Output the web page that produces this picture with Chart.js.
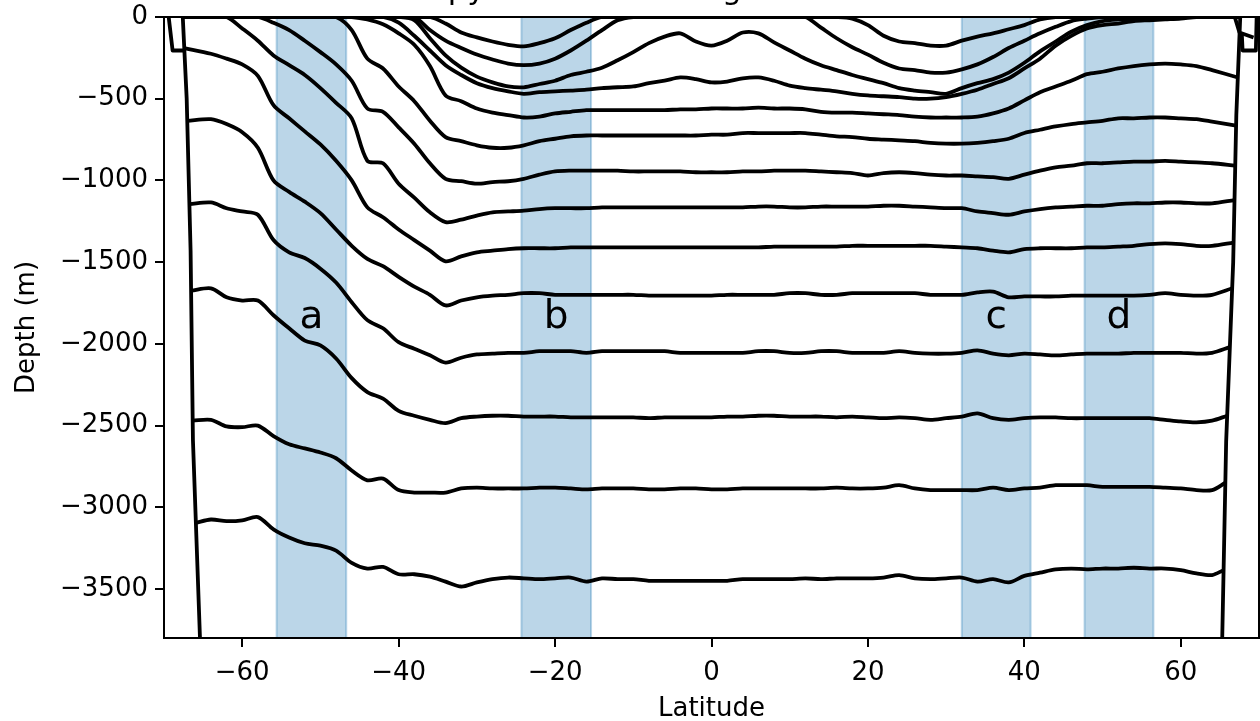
<!DOCTYPE html>
<html>
<head>
<meta charset="utf-8">
<script src="https://cdn.jsdelivr.net/npm/chart.js@4.4.1/dist/chart.umd.min.js"></script>
<style>
  html, body { margin: 0; padding: 0; background: #fff; overflow: hidden; }
</style>
</head>
<body>
<canvas id="chart" width="1260" height="721"></canvas>
<script>
// latitude grid shared by every isopycnal
const lats = [
  -66, -64, -62, -60, -58, -56, -54, -52, -50, -48,
  -46, -44, -42, -40, -38, -36, -34, -32, -30, -28,
  -26, -24, -22, -20, -18, -16, -14, -12, -10, -8,
  -6, -4, -2, 0, 2, 4, 6, 8, 10, 12,
  14, 16, 18, 20, 22, 24, 26, 28, 30, 32,
  34, 36, 38, 40, 42, 44, 46, 48, 50, 52,
  54, 56, 58, 60, 62, 64, 66
];

// isopycnal depths (m), shallow to deep
const surface1 = [
  0, 0, 0, 0, 0, 0, 0, 0, 0, 0,
  0, 0, 0, 0, 0, 0, -40, -95, -125, -150,
  -170, -180, -160, -130, -80, -35, 0, 0, 0, 0,
  0, 0, 0, 0, 0, 0, 0, 0, 0, 0,
  0, 0, -10, -50, -115, -150, -160, -175, -175, -145,
  -120, -100, -75, -50, -15, 0, 0, 0, 0, 0,
  0, 0, 0, 0, 0, 0, 0
];
const surface2 = [
  0, 0, 0, 0, 0, 0, 0, 0, 0, 0,
  0, 0, 0, 0, 0, -80, -145, -190, -230, -260,
  -285, -295, -285, -255, -205, -145, -80, -20, 0, 0,
  0, 0, 0, 0, 0, 0, 0, 0, 0, 0,
  -65, -130, -185, -230, -280, -315, -325, -340, -340, -320,
  -290, -245, -190, -145, -100, -60, -25, -10, 0, 0,
  0, 0, 0, 0, 0, 0, 0
];
const twinPeak = [
  0, 0, 0, 0, 0, 0, 0, 0, 0, 0,
  0, 0, 0, 0, -20, -130, -235, -310, -365, -400,
  -425, -430, -410, -390, -355, -335, -310, -265, -215, -160,
  -120, -100, -150, -175, -145, -95, -100, -155, -205, -255,
  -295, -325, -355, -380, -405, -435, -450, -460, -470, -435,
  -405, -380, -340, -280, -210, -150, -90, -50, -25, -15,
  -10, 0, 0, 0, 0, 0, 0
];
const iso450 = [
  0, 0, 0, 0, 0, 0, 0, 0, 0, 0,
  0, 0, 0, -35, -115, -205, -295, -355, -405, -435,
  -455, -470, -460, -455, -450, -445, -435, -430, -425, -405,
  -390, -370, -380, -400, -395, -375, -370, -390, -420, -435,
  -445, -455, -470, -480, -485, -490, -500, -500, -490, -470,
  -445, -410, -375, -315, -255, -175, -115, -70, -50, -40,
  -25, -20, -15, -10, 0, 0, 0
];
const iso570 = [
  0, 0, 0, 0, 0, 0, 0, 0, 0, 0,
  0, -15, -45, -100, -170, -300, -480, -515, -560, -585,
  -600, -615, -610, -590, -580, -570, -570, -570, -570, -570,
  -570, -565, -565, -560, -560, -560, -555, -560, -560, -565,
  -580, -585, -585, -590, -595, -600, -610, -615, -615, -615,
  -610, -590, -560, -510, -460, -425, -390, -350, -335, -315,
  -300, -290, -285, -290, -300, -325, -370
];
const iso725 = [
  0, 0, 0, 0, 0, 0, 0, 0, 0, 0,
  -80, -255, -315, -425, -515, -635, -735, -760, -785, -800,
  -800, -785, -760, -745, -730, -725, -725, -725, -725, -725,
  -725, -725, -725, -720, -720, -710, -710, -710, -710, -710,
  -720, -730, -735, -745, -750, -755, -760, -770, -775, -775,
  -770, -760, -745, -710, -690, -670, -655, -645, -635, -620,
  -620, -615, -615, -620, -625, -640, -665
];
const iso945 = [
  0, 0, 0, 0, 0, -35, -80, -145, -215, -290,
  -390, -560, -580, -675, -775, -895, -990, -1005, -1020, -1010,
  -1005, -990, -965, -945, -940, -940, -940, -940, -945, -945,
  -945, -945, -950, -950, -950, -945, -945, -940, -940, -940,
  -945, -950, -955, -970, -955, -950, -955, -965, -970, -970,
  -975, -980, -990, -965, -940, -920, -910, -895, -895, -890,
  -885, -885, -880, -885, -890, -895, -910
];
const iso1165 = [
  0, 0, 0, -70, -145, -235, -295, -355, -435, -525,
  -620, -880, -895, -1020, -1105, -1195, -1255, -1240, -1215, -1195,
  -1190, -1185, -1175, -1170, -1170, -1170, -1165, -1165, -1165, -1165,
  -1165, -1165, -1165, -1165, -1165, -1165, -1160, -1160, -1165, -1165,
  -1160, -1160, -1160, -1160, -1155, -1155, -1160, -1165, -1170, -1170,
  -1190, -1200, -1210, -1190, -1175, -1165, -1160, -1155, -1155, -1145,
  -1140, -1140, -1135, -1135, -1140, -1140, -1120
];
const iso1410 = [
  -190, -225, -255, -290, -360, -540, -620, -700, -780, -880,
  -1000, -1165, -1225, -1300, -1365, -1430, -1495, -1465, -1440, -1430,
  -1420, -1415, -1415, -1415, -1410, -1410, -1410, -1410, -1410, -1410,
  -1410, -1410, -1410, -1410, -1410, -1410, -1410, -1405, -1405, -1405,
  -1405, -1405, -1400, -1400, -1400, -1400, -1400, -1400, -1405, -1410,
  -1415, -1430, -1440, -1420, -1415, -1415, -1415, -1410, -1410, -1405,
  -1400, -1390, -1385, -1390, -1400, -1400, -1380
];
const iso1700 = [
  -635, -625, -655, -705, -800, -1000, -1070, -1130, -1200, -1300,
  -1400, -1480, -1525, -1590, -1650, -1700, -1765, -1735, -1715, -1705,
  -1700, -1690, -1690, -1700, -1700, -1700, -1700, -1700, -1700, -1705,
  -1705, -1705, -1705, -1705, -1700, -1700, -1700, -1700, -1690, -1690,
  -1700, -1700, -1690, -1690, -1690, -1690, -1690, -1700, -1700, -1700,
  -1685, -1680, -1715, -1710, -1710, -1710, -1705, -1705, -1705, -1705,
  -1705, -1700, -1690, -1700, -1705, -1700, -1660
];
const iso2050 = [
  -1145, -1135, -1170, -1190, -1210, -1365, -1440, -1475, -1540, -1625,
  -1745, -1855, -1905, -1990, -2030, -2070, -2115, -2085, -2065, -2060,
  -2055, -2055, -2045, -2045, -2045, -2055, -2045, -2045, -2045, -2045,
  -2045, -2055, -2055, -2055, -2055, -2055, -2045, -2045, -2055, -2055,
  -2045, -2045, -2055, -2055, -2055, -2045, -2055, -2060, -2060, -2055,
  -2040, -2060, -2070, -2060, -2065, -2070, -2065, -2060, -2060, -2060,
  -2055, -2055, -2055, -2055, -2060, -2055, -2020
];
const iso2450 = [
  -1675, -1660, -1715, -1735, -1735, -1825, -1905, -1980, -2010, -2090,
  -2210, -2295, -2335, -2410, -2440, -2465, -2485, -2455, -2445, -2440,
  -2440, -2445, -2445, -2445, -2450, -2450, -2450, -2450, -2450, -2455,
  -2450, -2450, -2450, -2450, -2445, -2445, -2440, -2440, -2445, -2445,
  -2445, -2450, -2445, -2450, -2455, -2450, -2455, -2465, -2455, -2445,
  -2425, -2455, -2465, -2455, -2450, -2450, -2455, -2455, -2455, -2455,
  -2455, -2455, -2465, -2475, -2480, -2470, -2440
];
const iso2885 = [
  -2470, -2465, -2505, -2510, -2500, -2565, -2615, -2640, -2665, -2700,
  -2775, -2835, -2825, -2895, -2910, -2910, -2910, -2885, -2880, -2885,
  -2885, -2885, -2880, -2880, -2885, -2890, -2885, -2885, -2885, -2890,
  -2890, -2885, -2885, -2890, -2890, -2885, -2885, -2885, -2885, -2885,
  -2885, -2880, -2885, -2885, -2880, -2865, -2885, -2895, -2895, -2895,
  -2895, -2880, -2895, -2885, -2880, -2865, -2865, -2865, -2875, -2875,
  -2875, -2875, -2880, -2885, -2895, -2895, -2850
];
const iso3440 = [
  -3095, -3075, -3085, -3080, -3060, -3135, -3185, -3220, -3235, -3265,
  -3340, -3375, -3365, -3410, -3410, -3425, -3455, -3485, -3460, -3440,
  -3430, -3435, -3440, -3435, -3430, -3455, -3435, -3440, -3440, -3450,
  -3450, -3450, -3450, -3450, -3450, -3440, -3440, -3440, -3440, -3435,
  -3440, -3435, -3435, -3435, -3430, -3415, -3435, -3440, -3435, -3430,
  -3455, -3440, -3460, -3420, -3400, -3380, -3375, -3380, -3375, -3375,
  -3370, -3375, -3375, -3385, -3405, -3415, -3385
];

// side walls and the little corner pieces near the surface
const leftWallLat = [-67.6, -67.1, -66.6, -66.3, -65.4];
const leftWallDepth = [0, -500, -1430, -2590, -3800];
const rightWallLat = [67.6, 67.1, 66.7, 65.8, 65.3];
const rightWallDepth = [0, -600, -1500, -2600, -3800];
const leftCornerLat = [-69.4, -68.9, -67.4];
const leftCornerDepth = [0, -205, -205];
const rightCornerLat = [66.9, 67.5, 69.3];
const rightCornerDepth = [0, -95, -125];
const rightBoxLat = [67.8, 67.9, 69.6, 69.7];
const rightBoxDepth = [-100, -205, -205, 0];

// shaded latitude bands
const bandNames = ['a', 'b', 'c', 'd'];
const bandStart = [-55.6, -24.3, 32.0, 47.7];
const bandEnd = [-46.7, -15.4, 40.8, 56.5];
const bandLabelDepth = -1905;

const latTicks = [-60, -40, -20, 0, 20, 40, 60];
const depthTicks = [0, -500, -1000, -1500, -2000, -2500, -3000, -3500];

const chartTitle = 'Isopycnals in the long model simulation';

const isopycnals = [surface1, surface2, twinPeak, iso450, iso570, iso725, iso945,
  iso1165, iso1410, iso1700, iso2050, iso2450, iso2885, iso3440];

function wallLatAt(wLat, wDepth, d) {
  for (let i = 0; i < wDepth.length - 1; i++) {
    if (d <= wDepth[i] && d >= wDepth[i + 1]) {
      const t = (d - wDepth[i]) / (wDepth[i + 1] - wDepth[i]);
      return wLat[i] + t * (wLat[i + 1] - wLat[i]);
    }
  }
  return wLat[wLat.length - 1];
}

function toPoints(xs, ys) {
  return xs.map((x, i) => ({ x: x, y: ys[i] }));
}

// each isopycnal ends on the side walls
function isoPoints(depths) {
  const pts = toPoints(lats, depths);
  pts[0].x = wallLatAt(leftWallLat, leftWallDepth, depths[0]);
  const last = depths.length - 1;
  pts[last].x = wallLatAt(rightWallLat, rightWallDepth, depths[last]);
  return pts;
}

const lineStyle = {
  borderColor: '#000',
  borderWidth: 3.8,
  pointRadius: 0,
  fill: false,
  tension: 0,
  borderJoinStyle: 'round'
};

const datasets = isopycnals.map((d) => Object.assign({}, lineStyle, { data: isoPoints(d), tension: 0.3 }));
datasets.push(Object.assign({ data: toPoints(leftWallLat, leftWallDepth) }, lineStyle));
datasets.push(Object.assign({ data: toPoints(rightWallLat, rightWallDepth) }, lineStyle));
datasets.push(Object.assign({ data: toPoints(leftCornerLat, leftCornerDepth) }, lineStyle));
datasets.push(Object.assign({ data: toPoints(rightCornerLat, rightCornerDepth) }, lineStyle));
datasets.push(Object.assign({ data: toPoints(rightBoxLat, rightBoxDepth) }, lineStyle));

function fmt(v) {
  return String(v).replace('-', '\u2212');
}

const decorPlugin = {
  id: 'decor',
  beforeDatasetsDraw(chart) {
    const { ctx, chartArea } = chart;
    const x = chart.scales.x;
    ctx.save();
    bandStart.forEach((b0, i) => {
      const x0 = x.getPixelForValue(b0);
      const x1 = x.getPixelForValue(bandEnd[i]);
      const h = chartArea.bottom - chartArea.top;
      ctx.fillStyle = 'rgba(31,119,180,0.3)';
      ctx.fillRect(x0, chartArea.top, x1 - x0, h);
      ctx.strokeStyle = 'rgba(31,119,180,0.3)';
      ctx.lineWidth = 2;
      ctx.strokeRect(x0, chartArea.top, x1 - x0, h);
    });
    ctx.restore();
  },
  afterDatasetsDraw(chart) {
    const { ctx, chartArea } = chart;
    const x = chart.scales.x;
    const y = chart.scales.y;
    ctx.save();
    ctx.fillStyle = '#000';
    ctx.font = '39px "DejaVu Sans"';
    ctx.textAlign = 'center';
    ctx.textBaseline = 'alphabetic';
    bandNames.forEach((name, i) => {
      const cx = x.getPixelForValue((bandStart[i] + bandEnd[i]) / 2);
      ctx.fillText(name, cx, y.getPixelForValue(bandLabelDepth));
    });
    // axes frame
    ctx.strokeStyle = '#000';
    ctx.lineWidth = 2;
    ctx.strokeRect(chartArea.left, chartArea.top, chartArea.right - chartArea.left, chartArea.bottom - chartArea.top);
    // title sits above the picture, only its descenders show
    ctx.font = '31px "DejaVu Sans"';
    ctx.fillText(chartTitle, (chartArea.left + chartArea.right) / 2, chartArea.top - 18);
    ctx.restore();
  }
};

Chart.defaults.font.family = '"DejaVu Sans"';
Chart.defaults.color = '#000';

new Chart(document.getElementById('chart'), {
  type: 'line',
  data: { datasets: datasets },
  options: {
    responsive: false,
    animation: false,
    events: [],
    layout: { padding: { top: 17, right: 1, left: 0, bottom: 0 } },
    plugins: {
      legend: { display: false },
      tooltip: { enabled: false },
      title: { display: false }
    },
    scales: {
      x: {
        type: 'linear',
        min: -70,
        max: 70,
        afterBuildTicks: (s) => { s.ticks = latTicks.map((v) => ({ value: v })); },
        afterFit: (s) => { s.height = 83; s.paddingLeft = 0; s.paddingRight = 0; },
        ticks: { font: { size: 26 }, color: '#000', padding: 11, maxRotation: 0, autoSkip: false, callback: fmt },
        grid: { drawOnChartArea: false, color: '#000', lineWidth: 2, tickLength: 9 },
        border: { display: false },
        title: { display: true, text: 'Latitude', color: '#000', font: { size: 26, lineHeight: 0.9 }, padding: 0 }
      },
      y: {
        type: 'linear',
        min: -3800,
        max: 0,
        afterBuildTicks: (s) => { s.ticks = depthTicks.map((v) => ({ value: v })); },
        afterFit: (s) => { s.width = 164; s.paddingTop = 0; s.paddingBottom = 0; },
        ticks: { font: { size: 26 }, color: '#000', padding: 7, autoSkip: false, callback: fmt },
        grid: { drawOnChartArea: false, color: '#000', lineWidth: 2, tickLength: 9 },
        border: { display: false },
        title: { display: true, text: 'Depth (m)', color: '#000', font: { size: 26, lineHeight: 1 }, padding: { top: 14, bottom: 0 } }
      }
    }
  },
  plugins: [decorPlugin]
});
</script>
</body>
</html>
